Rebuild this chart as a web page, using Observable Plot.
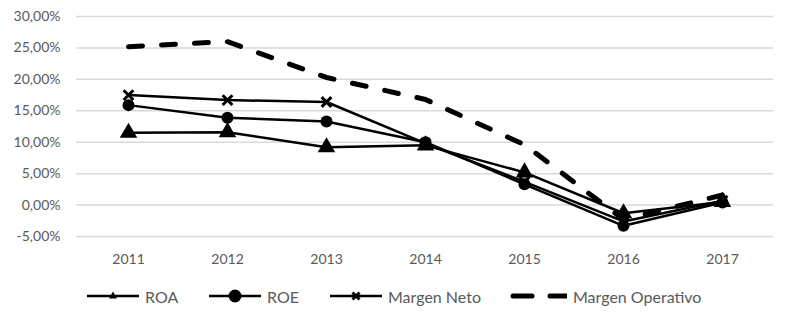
<!DOCTYPE html>
<html>
<head>
<meta charset="utf-8">
<script src="https://cdn.jsdelivr.net/npm/d3@7"></script>
<script src="https://cdn.jsdelivr.net/npm/@observablehq/plot@0.6"></script>
<style>
  body { margin: 0; background: #fff; font-family: Lato, "Open Sans", sans-serif; }
  #chart { width: 786px; position: relative; }
  .legend { position: relative; height: 50px; color: #595959; font-size: 16px; }
  .legend .item { position: absolute; top: 16px; display: flex; align-items: center; height: 20px; white-space: nowrap; }
  .legend svg { margin-right: 6px; }
</style>
</head>
<body>
<div id="chart"></div>
<script>
const years = ["2011", "2012", "2013", "2014", "2015", "2016", "2017"];
const roa = [11.5, 11.6, 9.2, 9.5, 5.2, -1.3, 0.5];
const roe = [15.9, 13.9, 13.3, 10.0, 3.3, -3.3, 0.4];
const margenNeto = [17.5, 16.7, 16.4, 9.8, 3.7, -2.6, 0.7];
const margenOperativo = [25.2, 26.0, 20.3, 16.8, 9.6, -2.3, 1.6];
const yTicks = [-5, 0, 5, 10, 15, 20, 25, 30];
const seriesNames = ["ROA", "ROE", "Margen Neto", "Margen Operativo"];

const seriesValues = [roa, roe, margenNeto, margenOperativo];
const data = seriesNames.flatMap((name, s) =>
  years.map((year, i) => ({ series: name, year, value: seriesValues[s][i] }))
);
const bySeries = name => data.filter(d => d.series === name);
const fmt = d => d.toFixed(2).replace(".", ",") + "%";

const plot = Plot.plot({
  width: 786,
  height: 270,
  marginLeft: 76,
  marginRight: 13,
  marginTop: 16,
  marginBottom: 34,
  style: { fontFamily: "Lato, 'Open Sans', sans-serif", fontSize: "14px", color: "#595959", background: "#fff" },
  x: { type: "point", domain: years, padding: 0.5, label: null },
  y: { domain: [-5, 30], label: null },
  marks: [
    Plot.gridY(yTicks, { stroke: "#d9d9d9", strokeOpacity: 1, strokeWidth: 1.5 }),
    Plot.axisY(yTicks, { tickSize: 0, tickPadding: 16, tickFormat: fmt, label: null }),
    Plot.axisX({ tickSize: 0, tickPadding: 18, label: null }),
    Plot.line(bySeries("ROA"), { x: "year", y: "value", stroke: "#000", strokeWidth: 2.5 }),
    Plot.dot(bySeries("ROA"), { x: "year", y: "value", symbol: "triangle", fill: "#000", r: 6.5 }),
    Plot.line(bySeries("ROE"), { x: "year", y: "value", stroke: "#000", strokeWidth: 2.5 }),
    Plot.dot(bySeries("ROE"), { x: "year", y: "value", symbol: "circle", fill: "#000", r: 6 }),
    Plot.line(bySeries("Margen Neto"), { x: "year", y: "value", stroke: "#000", strokeWidth: 2.5 }),
    Plot.dot(bySeries("Margen Neto"), { x: "year", y: "value", symbol: "times", stroke: "#000", strokeWidth: 3, r: 4.5 }),
    Plot.line(bySeries("Margen Operativo"), { x: "year", y: "value", stroke: "#000", strokeWidth: 5, strokeDasharray: "14,19", strokeLinecap: "round" })
  ]
});
document.getElementById("chart").appendChild(plot);

// Legend
const legend = document.createElement("div");
legend.className = "legend";
const legendLeft = [87, 209, 330, 510];
const swatches = {
  "ROA": `<svg width="52" height="14"><line x1="0" y1="7" x2="52" y2="7" stroke="#000" stroke-width="2.5"/><path d="M26,2.5 L30,9.5 L22,9.5 Z" fill="#000"/></svg>`,
  "ROE": `<svg width="52" height="14"><line x1="0" y1="7" x2="52" y2="7" stroke="#000" stroke-width="2.5"/><circle cx="26" cy="7" r="6.5" fill="#000"/></svg>`,
  "Margen Neto": `<svg width="52" height="14"><line x1="0" y1="7" x2="52" y2="7" stroke="#000" stroke-width="2.5"/><path d="M22.5,3.5 L29.5,10.5 M29.5,3.5 L22.5,10.5" stroke="#000" stroke-width="3"/></svg>`,
  "Margen Operativo": `<svg width="57" height="14"><line x1="3" y1="7" x2="57" y2="7" stroke="#000" stroke-width="5" stroke-linecap="round" stroke-dasharray="19,18"/></svg>`
};
seriesNames.forEach((name, i) => {
  const item = document.createElement("div");
  item.className = "item";
  item.style.left = legendLeft[i] + "px";
  item.innerHTML = swatches[name] + `<span>${name}</span>`;
  legend.appendChild(item);
});
document.getElementById("chart").appendChild(legend);
</script>
</body>
</html>
